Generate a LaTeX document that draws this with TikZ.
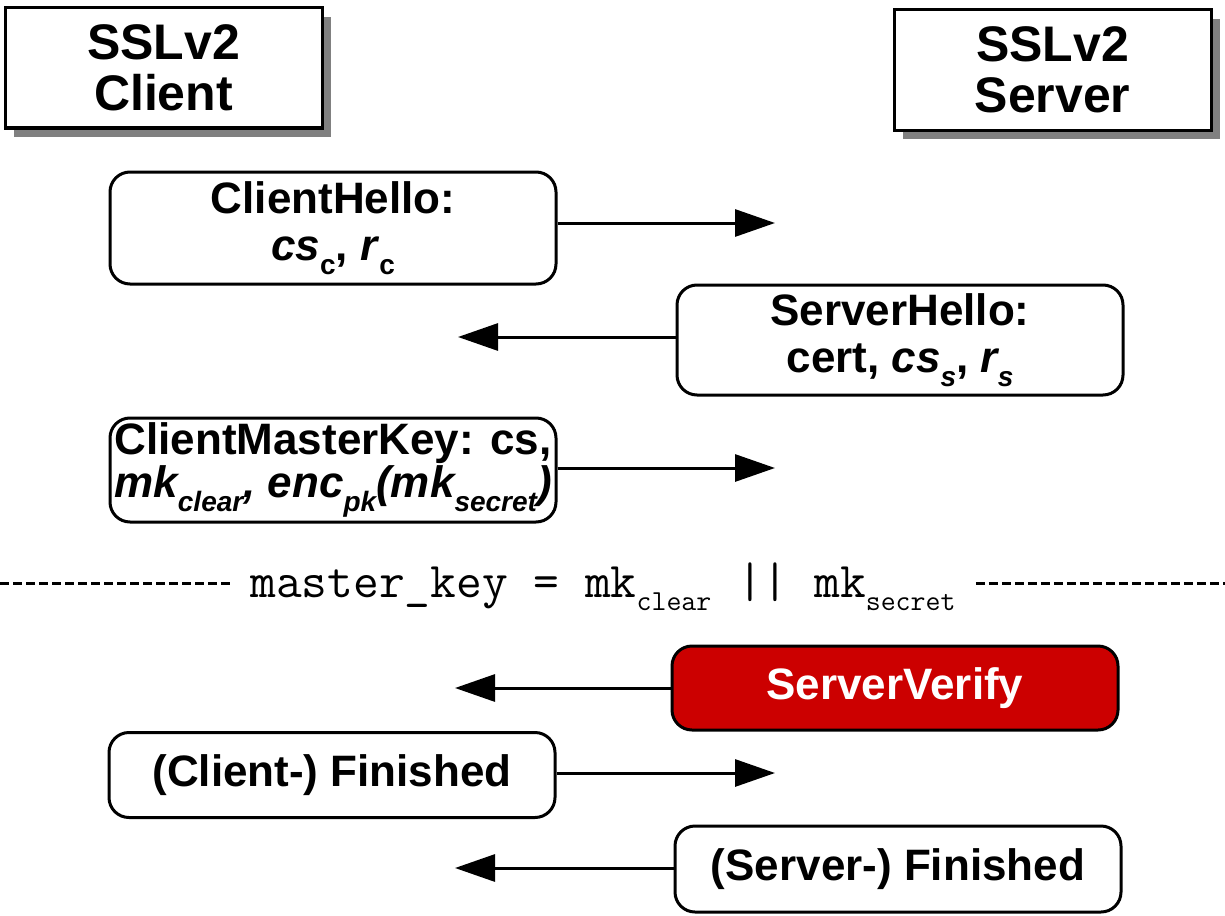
\documentclass[tikz,border=0pt]{standalone}
\usepackage{fontspec}
\setmainfont{Liberation Sans}
\usetikzlibrary{calc}
\usetikzlibrary{positioning}
\usetikzlibrary{shadows}
\usetikzlibrary{arrows.meta}
\definecolor{verifyRed}{HTML}{CC0000}
\newcommand{\lowsub}[1]{\raisebox{-7pt}{\fontsize{14}{14}\selectfont #1}}
\newcommand{\ttlowsub}[1]{\raisebox{-6.5pt}{\fontsize{14.5}{14.5}\selectfont #1}}
\tikzstyle{party} = [draw, line width=1.5pt, fill=white, minimum width=158.5pt, minimum height=60pt, inner sep=0pt, align=center, font=\fontsize{25}{25.5}\selectfont\bfseries, drop shadow={shadow xshift=4.5pt, shadow yshift=-4.5pt, fill=black!50, opacity=1}]
\tikzstyle{msg} = [draw, line width=1.5pt, rounded corners=10pt, fill=white, minimum width=223pt, inner sep=0pt, align=center, font=\fontsize{22}{23.5}\selectfont\bfseries]
\tikzstyle{colorVerify} = [fill=verifyRed, text=white]
\tikzstyle{msgarrow} = [line width=1.5pt, -{Triangle[length=20pt,width=13.5pt]}]
\tikzstyle{keyline} = [line width=1.5pt, dash pattern=on 4.5pt off 2pt]

\begin{document}
\begin{tikzpicture}[x=0.5pt, y=-0.5pt]
    \useasboundingbox (0,0) rectangle (1225,915);

    \node[party] (client) at (163.5,68) {SSLv2\\Client};
    \node[party] (server) at ($(client)+(889,2)$) {SSLv2\\Server};

    \node[msg, minimum height=56pt] (chello) at (333,228)
{ClientHello:\\\textit{cs}\lowsub{c}, \textit{r}\lowsub{c}};
    \node[msg, minimum height=55pt] (shello) at ($(chello)+(567,112)$)
{ServerHello:\\cert, \textit{cs\lowsub{s}}, \textit{r\lowsub{s}}};
    \node[msg, minimum height=52pt, font=\fontsize{22}{20}\selectfont\bfseries] (cmkey) at ($(chello)+(0,242)$)
{ClientMasterKey: cs,\\\textit{mk\lowsub{clear}, enc\lowsub{pk}(mk\lowsub{secret})}};
    \node[msg, colorVerify, minimum height=42pt] (sverify) at ($(shello)+(-5,348)$) {ServerVerify};
    \node[msg, minimum height=42.5pt] (cfin) at ($(cmkey)+(-1,305)$) {(Client-) Finished};
    \node[msg, minimum height=43pt] (sfin) at ($(sverify)+(3,181)$) {(Server-) Finished};

    \coordinate (chello_to) at (775,223);
    \coordinate (shello_to) at (458,337);
    \coordinate (cmkey_to) at (775,468);
    \coordinate (sverify_to) at (455,688);
    \coordinate (cfin_to) at (775,773);
    \coordinate (sfin_to) at (455,868);
    \draw[msgarrow] (chello.east |- chello_to) -- (chello_to);
    \draw[msgarrow] (shello.west |- shello_to) -- (shello_to);
    \draw[msgarrow] (cmkey.east |- cmkey_to) -- (cmkey_to);
    \draw[msgarrow] (sverify.west |- sverify_to) -- (sverify_to);
    \draw[msgarrow] (cfin.east |- cfin_to) -- (cfin_to);
    \draw[msgarrow] (sfin.west |- sfin_to) -- (sfin_to);

    % key derivation line
    \node[anchor=base west, inner xsep=10pt, inner ysep=0pt, font=\fontsize{25}{25}\selectfont\ttfamily] (mkey) at (230,597)
{master\_key = mk\ttlowsub{clear} || mk\ttlowsub{secret}\hspace{6pt}};
    \coordinate (key_l) at (0,583);
    \coordinate (key_r) at (1225,583);
    \draw[keyline] (key_l) -- (mkey.west |- key_l);
    \draw[keyline] (mkey.east |- key_r) -- (key_r);
\end{tikzpicture}
\end{document}
